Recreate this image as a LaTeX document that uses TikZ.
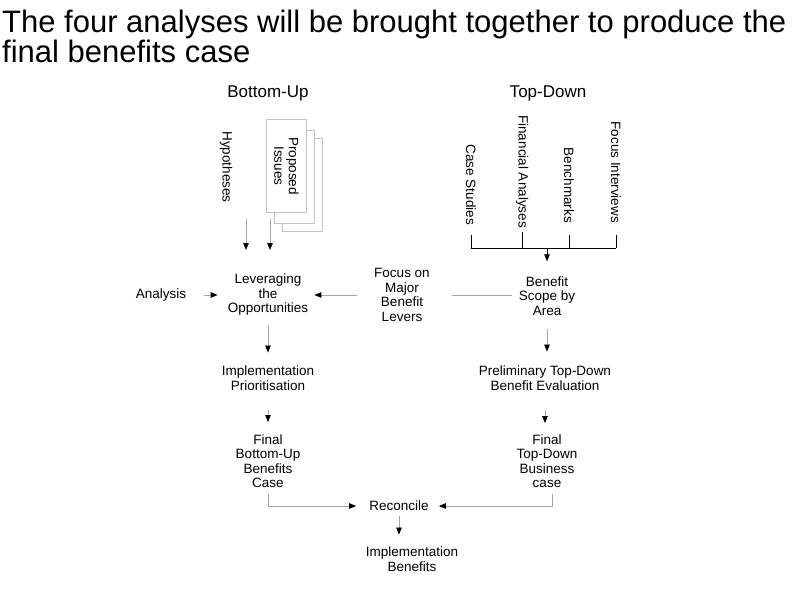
\documentclass[tikz,border=0pt]{standalone}
\usepackage{fontspec}
\setmainfont{Liberation Sans}
\usetikzlibrary{arrows.meta, positioning}
\definecolor{linegray}{RGB}{165,165,165}
\definecolor{pagegray}{RGB}{195,195,195}
\tikzstyle{txt} = [inner sep=0pt, align=center, font=\fontsize{13.5}{14.5}\selectfont]
\tikzstyle{heading} = [inner sep=0pt, font=\fontsize{17}{20}\selectfont]
\tikzstyle{vtxt} = [txt, rotate=-90]
\tikzstyle{page} = [txt, rotate=-90, draw=pagegray, fill=white, line width=0.8pt, minimum width=93pt, minimum height=40pt]
\tikzstyle{flow} = [draw=linegray, line width=0.8pt, -{Triangle[color=black, length=7pt, width=5.5pt]}]
\tikzstyle{feed} = [draw=linegray, line width=0.8pt]
\tikzstyle{bracket} = [draw=black, line width=0.8pt]

\begin{document}
\begin{tikzpicture}[x=1pt, y=-1pt]
  \useasboundingbox (0,0) rectangle (792,596);

  % Title
  \node (title) at (2,10) [anchor=north west, align=left, inner sep=0pt, font=\fontsize{31}{30}\selectfont] {The four analyses will be brought together to produce the\\final benefits case};

  % Column headings
  \node (bu) at (268,93) [heading] {Bottom-Up};
  \node (td) at (548,93) [heading] {Top-Down};

  % Bottom-up inputs
  \node (hyp) at (226,167) [vtxt] {Hypotheses};
  \node (page3) at (302.5,185) [page] {};
  \node (page2) at (294,177) [page] {};
  \node (issues) at (286.5,166) [page] {Proposed\\Issues};
  \coordinate (hyparr) at (246,219);
  \coordinate (issarr) at (270,219);

  % Top-down inputs
  \node (cs) at (471,225) [vtxt, anchor=east] {Case Studies};
  \node (fa) at (522,228) [vtxt, anchor=east] {Financial Analyses};
  \node (bm) at (569,223) [vtxt, anchor=east] {Benchmarks};
  \node (fi) at (616,223) [vtxt, anchor=east] {Focus Interviews};
  \coordinate (join) at (547,248);

  % Main flow
  \node (ana) at (161,295) [txt] {Analysis};
  \node (lev) at (268,295) [txt] {Leveraging\\the\\Opportunities};
  \node (foc) at (402,295) [txt] {Focus on\\Major\\Benefit\\Levers};
  \node (bsa) at (547,296) [txt] {Benefit\\Scope by\\Area};
  \node (imp) at (268,378) [txt] {Implementation\\Prioritisation};
  \node (pre) at (545,378) [txt] {Preliminary Top-Down\\Benefit Evaluation};
  \node (fbu) at (268,461) [txt] {Final\\Bottom-Up\\Benefits\\Case};
  \node (ftd) at (547,461) [txt] {Final\\Top-Down\\Business\\case};
  \node (rec) at (399,506) [txt] {Reconcile};
  \node (ib) at (412,559) [txt] {Implementation\\Benefits};

  % Arrows into Leveraging
  \draw[flow, shorten >=24pt] (hyparr) -- (hyparr |- lev.north);
  \draw[flow, shorten >=24pt] (issarr) -- (issarr |- lev.north);
  \draw[flow, shorten <=18pt, shorten >=10pt] (ana.east) -- (lev.west);
  \draw[flow, shorten <=17pt, shorten >=6pt] (foc.west) -- (lev.east);
  \draw[feed, shorten <=22pt, shorten >=7pt] (foc.east) -- (foc.east -| bsa.west);

  % Top-down bracket
  \draw[bracket, shorten <=10pt] (cs.east) -- (cs.east |- join);
  \draw[bracket, shorten <=4pt] (fa.east) -- (fa.east |- join);
  \draw[bracket, shorten <=12pt] (bm.east) -- (bm.east |- join);
  \draw[bracket, shorten <=12pt] (fi.east) -- (fi.east |- join);
  \draw[bracket] (cs.east |- join) -- (fi.east |- join);
  \draw[bracket, -{Triangle[length=7pt, width=5.5pt]}, shorten >=15pt] (join) -- (join |- bsa.north);

  % Down the columns
  \draw[flow, shorten <=9pt, shorten >=13pt] (lev) -- (imp);
  \draw[flow, shorten <=20pt, shorten >=12pt] (imp) -- (fbu);
  \draw[flow, shorten <=13pt, shorten >=14pt] (bsa.south) -- (bsa.south |- pre.north);
  \draw[flow, shorten <=20pt, shorten >=11pt] (pre.south) -- (pre.south |- ftd.north);

  % Reconcile
  \draw[flow, shorten <=6pt, shorten >=13pt] (fbu.south) |- (rec.west);
  \draw[flow, shorten <=6pt, shorten >=10pt] ([xshift=5pt]ftd.south) |- (rec.east);
  \draw[flow, shorten <=5pt, shorten >=12pt] (rec.south) -- (rec.south |- ib.north);

\end{tikzpicture}
\end{document}
